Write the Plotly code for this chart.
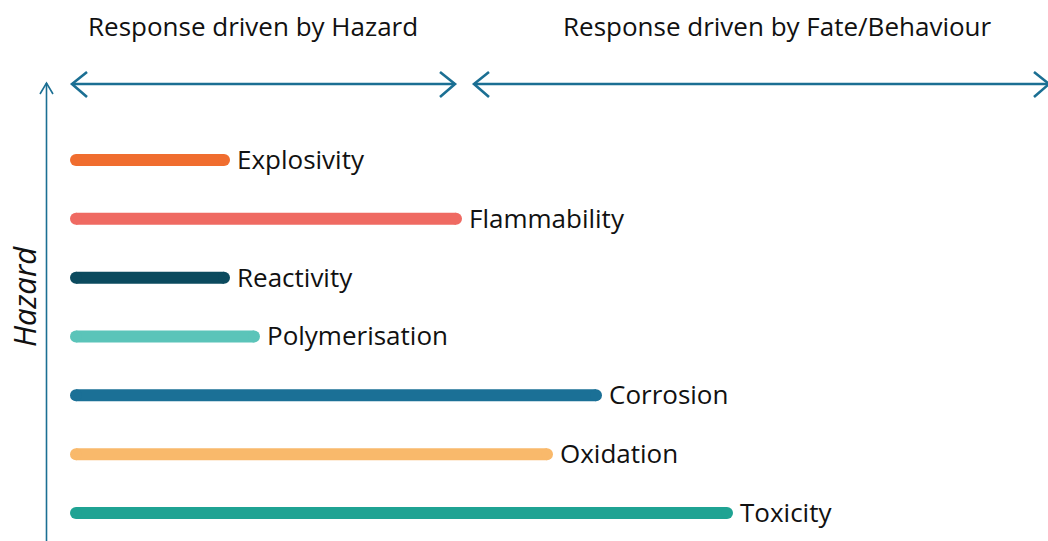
import plotly.graph_objects as go

hazards = ["Explosivity", "Flammability", "Reactivity", "Polymerisation",
           "Corrosion", "Oxidation", "Toxicity"]
extent = [148, 380, 148, 178, 520, 471, 651]
colors = ["#f06d2f", "#ef6a62", "#0b4a5e", "#5bc4b9", "#1b7096", "#f9b96b", "#1fa393"]
header_left = "Response driven by Hazard"
header_right = "Response driven by Fate/Behaviour"
y_title = "Hazard"

W, H = 1048, 541
X0 = 76  # pixel of value 0
AC = "#1b6f93"
FONT = "Open Sans"

fig = go.Figure()
for name, v, c in zip(hazards, extent, colors):
    fig.add_trace(go.Scatter(
        x=[0, v], y=[name, name], mode="lines+markers",
        line=dict(color=c, width=12),
        marker=dict(color=c, size=12, line=dict(width=0)),
        hoverinfo="skip", showlegend=False))
    fig.add_annotation(x=v, y=name, xref="x", yref="y", text=name,
                       showarrow=False, xanchor="left", yanchor="middle",
                       xshift=11, yshift=1,
                       font=dict(family=FONT, size=26, color="#111111"))

def px(x):
    return x / W

def py(y):
    return 1 - y / H

def path(points):
    return "M " + " L ".join(f"{px(a):.5f},{py(b):.5f}" for a, b in points)

shapes = []
lw = 2.6
# horizontal double arrows
for a, b in [(72, 455), (474, 1049)]:
    shapes.append(dict(type="path", xref="paper", yref="paper",
                       path=path([(a, 84), (b, 84)]), line=dict(color=AC, width=lw)))
    shapes.append(dict(type="path", xref="paper", yref="paper",
                       path=path([(a + 15, 72), (a, 84), (a + 15, 97)]),
                       line=dict(color=AC, width=lw)))
    shapes.append(dict(type="path", xref="paper", yref="paper",
                       path=path([(b - 15, 72), (b, 84), (b - 15, 97)]),
                       line=dict(color=AC, width=lw)))
# vertical axis arrow
shapes.append(dict(type="path", xref="paper", yref="paper",
                   path=path([(46.5, 541), (46.5, 83)]), line=dict(color=AC, width=1.6)))
shapes.append(dict(type="path", xref="paper", yref="paper",
                   path=path([(40, 94), (46.5, 83), (53, 94)]), line=dict(color=AC, width=1.6)))

fig.add_annotation(x=px(253), y=py(26), xref="paper", yref="paper", text=header_left,
                   xanchor="center", yanchor="middle",
                   showarrow=False, font=dict(family=FONT, size=26, color="#111111"))
fig.add_annotation(x=px(777), y=py(26), xref="paper", yref="paper", text=header_right,
                   xanchor="center", yanchor="middle",
                   showarrow=False, font=dict(family=FONT, size=26, color="#111111"))
fig.add_annotation(x=px(24), y=py(297), xref="paper", yref="paper",
                   text="<i>" + y_title + "</i>", textangle=-90,
                   xanchor="center", yanchor="middle",
                   showarrow=False, font=dict(family=FONT, size=31, color="#111111"))

step = 58.83
top_idx = -160 / step
bot_idx = (H - 160) / step
fig.update_layout(
    width=W, height=H, margin=dict(l=0, r=0, t=0, b=0),
    paper_bgcolor="white", plot_bgcolor="white", shapes=shapes,
    xaxis=dict(range=[-X0, W - X0], visible=False, fixedrange=True),
    yaxis=dict(type="category", categoryorder="array", categoryarray=hazards,
               range=[bot_idx, top_idx], visible=False, fixedrange=True),
)
fig.write_html("out.html", config={"displayModeBar": False},
               post_script="document.body.style.margin='0';")
